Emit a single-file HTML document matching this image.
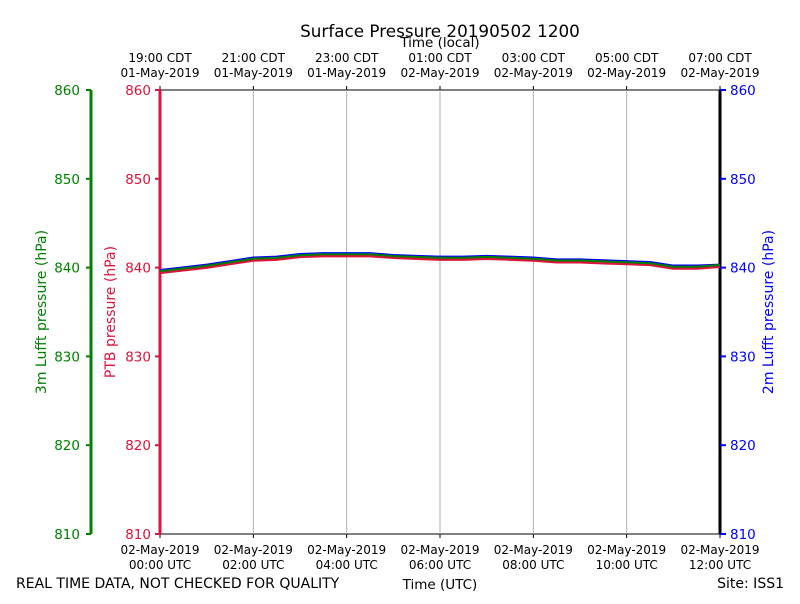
<!DOCTYPE html>
<html><head><meta charset="utf-8"><style>
body{margin:0;background:#fff;font-family:"DejaVu Sans","Liberation Sans",sans-serif}
svg text{font-family:"DejaVu Sans","Liberation Sans",sans-serif}
</style></head><body>
<svg id="c" width="800" height="600" xmlns="http://www.w3.org/2000/svg"></svg>
<script>
const hours=[0,0.5,1,1.5,2,2.5,3,3.5,4,4.5,5,5.5,6,6.5,7,7.5,8,8.5,9,9.5,10,10.5,11,11.5,12];
const luft3m=[839.6,839.9,840.2,840.6,841.0,841.1,841.4,841.5,841.5,841.5,841.3,841.2,841.1,841.1,841.2,841.1,841.0,840.8,840.8,840.7,840.6,840.5,840.1,840.1,840.3];
const luft2m=[839.7,840.0,840.3,840.7,841.1,841.2,841.5,841.6,841.6,841.6,841.4,841.3,841.2,841.2,841.3,841.2,841.1,840.9,840.9,840.8,840.7,840.6,840.2,840.2,840.3];
const ptb=[839.4,839.7,840.0,840.4,840.8,840.9,841.2,841.3,841.3,841.3,841.1,841.0,840.9,840.9,841.0,840.9,840.8,840.6,840.6,840.5,840.4,840.3,839.9,839.9,840.1];
const yTicks=[810,820,830,840,850,860];
const xTickHours=[0,2,4,6,8,10,12];
const utcLabels=["00:00 UTC","02:00 UTC","04:00 UTC","06:00 UTC","08:00 UTC","10:00 UTC","12:00 UTC"];
const utcDates=["02-May-2019","02-May-2019","02-May-2019","02-May-2019","02-May-2019","02-May-2019","02-May-2019"];
const cdtLabels=["19:00 CDT","21:00 CDT","23:00 CDT","01:00 CDT","03:00 CDT","05:00 CDT","07:00 CDT"];
const cdtDates=["01-May-2019","01-May-2019","01-May-2019","02-May-2019","02-May-2019","02-May-2019","02-May-2019"];
const X0=160,X1=720,Y0=534,Y1=90;
const xs=h=>X0+(h-0)/(12-0)*(X1-X0);
const ys=v=>Y0-(v-810)/(860-810)*(Y0-Y1);
const svg=document.getElementById('c');
const NS='http://www.w3.org/2000/svg';
function el(t,a,txt){const e=document.createElementNS(NS,t);for(const k in a)e.setAttribute(k,a[k]);if(txt!==undefined)e.textContent=txt;svg.appendChild(e);return e;}
let e;
e=el('rect',{x:X0,y:Y1,width:X1-X0,height:Y0-Y1,fill:'none',stroke:'#000','stroke-width':1});

xTickHours.forEach((h,i)=>{const x=xs(h);
 if(i>0&&i<xTickHours.length-1){e=el('line',{x1:x,x2:x,y1:Y1,y2:Y0,stroke:'#b0b0b0','stroke-width':1});}
 e=el('line',{x1:x,x2:x,y1:Y0,y2:Y0+4,stroke:'#000'});
 e=el('line',{x1:x,x2:x,y1:Y1,y2:Y1-4,stroke:'#000'});
 e=el('text',{x:x,y:554,'font-size':12,'text-anchor':'middle'},utcDates[i]);
 e=el('text',{x:x,y:569,'font-size':12,'text-anchor':'middle'},utcLabels[i]);
 e=el('text',{x:x,y:62,'font-size':12,'text-anchor':'middle'},cdtLabels[i]);
 e=el('text',{x:x,y:77,'font-size':12,'text-anchor':'middle'},cdtDates[i]);
});
e=el('line',{x1:91,x2:91,y1:Y1,y2:Y0,stroke:'green','stroke-width':3});
e=el('line',{x1:X0,x2:X0,y1:Y1,y2:Y0,stroke:'crimson','stroke-width':3});
e=el('line',{x1:X1,x2:X1,y1:Y1,y2:Y0,stroke:'#000','stroke-width':3});
yTicks.forEach(v=>{const y=ys(v);
 e=el('line',{x1:86,x2:91,y1:y,y2:y,stroke:'green','stroke-width':2});
 e=el('text',{x:80,y:y+5,'font-size':13.5,'text-anchor':'end',fill:'green'},v);
 e=el('line',{x1:155,x2:160,y1:y,y2:y,stroke:'crimson','stroke-width':2});
 e=el('text',{x:151,y:y+5,'font-size':13.5,'text-anchor':'end',fill:'crimson'},v);
 e=el('line',{x1:720,x2:726,y1:y,y2:y,stroke:'blue','stroke-width':2});
 e=el('text',{x:730,y:y+5,'font-size':13.5,fill:'blue'},v);
});
function series(arr,color,name,w){const d=arr.map((v,i)=>(i?'L':'M')+xs(hours[i]).toFixed(1)+','+ys(v).toFixed(1)).join(' ');
 e=el('path',{d:d,fill:'none',stroke:color,'stroke-width':w});}
series(ptb,'crimson','ptb-line',2.5);
series(luft2m,'blue','lufft-2m-line',2.5);
series(luft3m,'green','lufft-3m-line',2);
e=el('text',{x:440,y:37,'font-size':16.8,'text-anchor':'middle'},'Surface Pressure 20190502 1200');
e=el('text',{x:440,y:47,'font-size':13.5,'text-anchor':'middle'},'Time (local)');
e=el('text',{x:440,y:589,'font-size':13.5,'text-anchor':'middle'},'Time (UTC)');
e=el('text',{x:16,y:588,'font-size':14},'REAL TIME DATA, NOT CHECKED FOR QUALITY');
e=el('text',{x:784,y:588,'font-size':14,'text-anchor':'end'},'Site: ISS1');
e=el('text',{x:46,y:312,'font-size':14,'text-anchor':'middle',fill:'green',transform:'rotate(-90 46 312)'},'3m Lufft pressure (hPa)');
e=el('text',{x:115,y:312,'font-size':14,'text-anchor':'middle',fill:'crimson',transform:'rotate(-90 115 312)'},'PTB pressure (hPa)');
e=el('text',{x:773,y:312,'font-size':14,'text-anchor':'middle',fill:'blue',transform:'rotate(-90 773 312)'},'2m Lufft pressure (hPa)');
</script>
</body></html>
